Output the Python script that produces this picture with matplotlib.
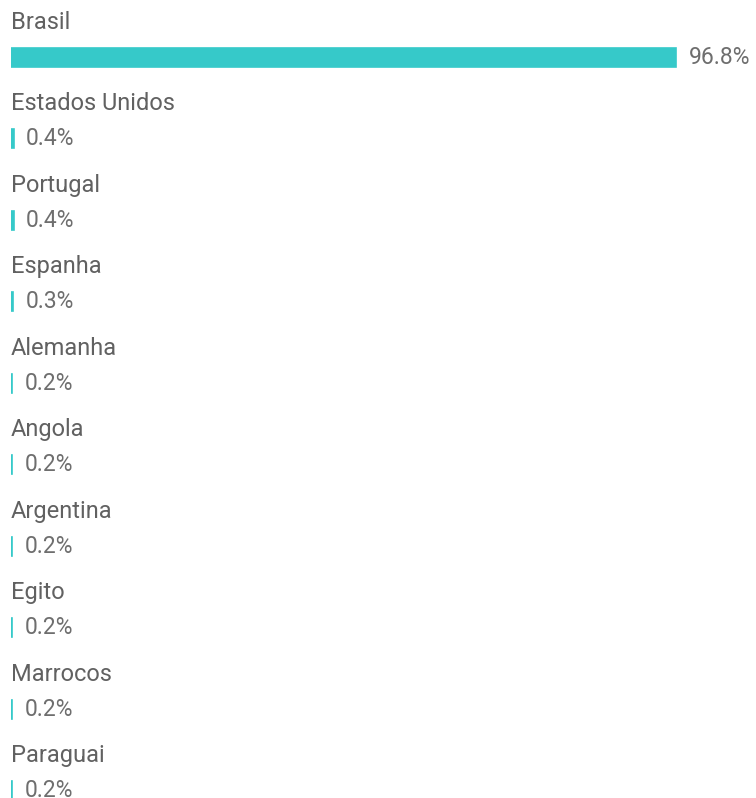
import matplotlib
matplotlib.use('Agg')
import matplotlib.pyplot as plt
import numpy as np

countries = ['Brasil', 'Estados Unidos', 'Portugal', 'Espanha', 'Alemanha',
             'Angola', 'Argentina', 'Egito', 'Marrocos', 'Paraguai']
shares = [96.8, 0.4, 0.4, 0.3, 0.2, 0.2, 0.2, 0.2, 0.2, 0.2]
value_labels = ['96.8%', '0.4%', '0.4%', '0.3%', '0.2%',
                '0.2%', '0.2%', '0.2%', '0.2%', '0.2%']

plt.rcParams['font.family'] = ['Roboto', 'DejaVu Sans']

W, H = 756, 798
fig = plt.figure(figsize=(W / 100, H / 100), dpi=100)

# axes: x from 11px to 698px (0..100%), full height
ax = fig.add_axes([11 / W, 0, 687 / W, 1])
row_px = 81.5
first_px = 57
ax.set_xlim(0, 100)
ax.set_ylim((H - first_px) / row_px, -first_px / row_px)
ax.axis('off')

bar_color = '#36c9c9'
rows = np.arange(len(countries))
ax.barh(rows, shares, height=19 / row_px, color=bar_color,
        edgecolor=bar_color, linewidth=1.2, align='center')

for r, name, v, lab in zip(rows, countries, shares, value_labels):
    ax.text(0, r - 35 / row_px, name, ha='left', va='center',
            fontsize=17, color='#616161')
    ax.annotate(lab, xy=(v, r), xytext=(9, 0), textcoords='offset points',
                ha='left', va='center', fontsize=16.5, color='#6e6e6e')

fig.savefig('out.png', dpi=100, facecolor='white')
